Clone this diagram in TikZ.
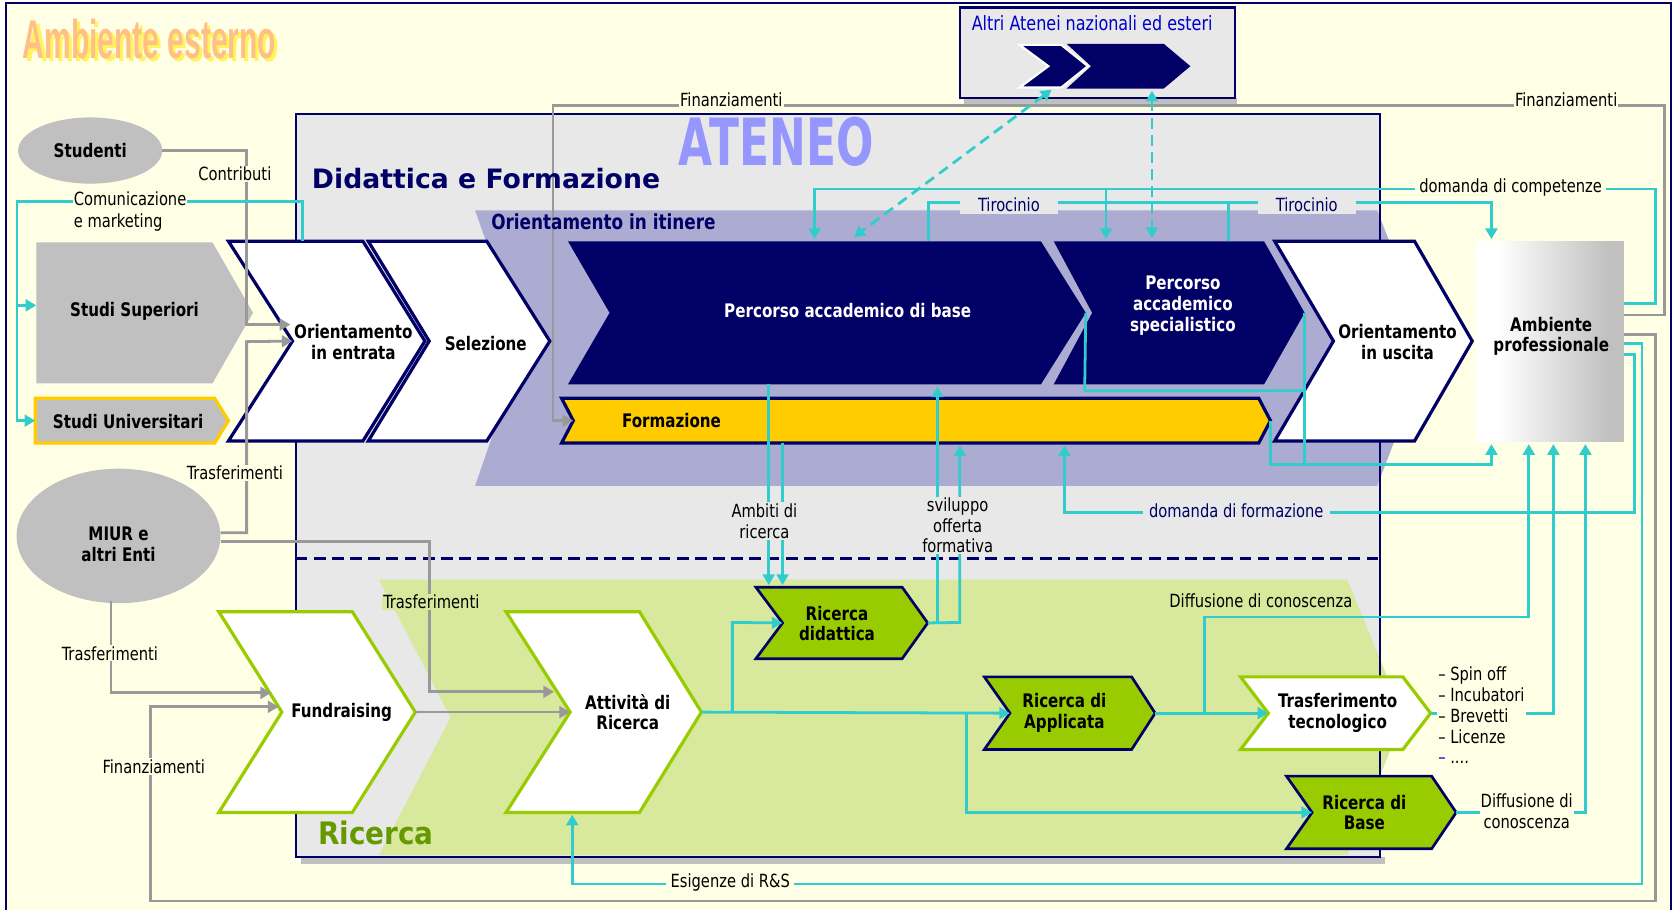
\documentclass[tikz,border=0pt]{standalone}
\usepackage{fontspec}
\setmainfont{DejaVu Sans Condensed}[FakeStretch=0.9]
\newfontfamily\widefont{DejaVu Sans}
\newfontfamily\titlefont{Liberation Sans}[FakeStretch=0.55]
\newfontfamily\ateneofont{DejaVu Sans Condensed}[FakeStretch=0.75]
\newfontfamily\condfont{DejaVu Sans Condensed}
\usetikzlibrary{arrows.meta,calc,shapes.geometric}
\definecolor{navy}{RGB}{0,0,102}
\definecolor{bgY}{RGB}{255,255,229}
\definecolor{atG}{RGB}{232,232,232}
\definecolor{dotR}{RGB}{172,172,210}
\definecolor{grnR}{RGB}{216,233,158}
\definecolor{cyanL}{RGB}{51,204,204}
\definecolor{grayL}{RGB}{153,153,153}
\definecolor{shapeG}{RGB}{192,192,192}
\definecolor{limeG}{RGB}{153,204,0}
\definecolor{yelF}{RGB}{255,204,0}
\definecolor{ateneoC}{RGB}{150,150,255}
\definecolor{titleO}{RGB}{255,192,135}
\definecolor{titleY}{RGB}{255,245,90}
\definecolor{ricG}{RGB}{102,153,0}
\definecolor{blueT}{RGB}{0,0,204}
\pgfdeclarehorizontalshading{apshade}{100bp}{color(0bp)=(white); color(32bp)=(white); color(70bp)=(shapeG); color(100bp)=(shapeG)}
\newcommand\chev[8][]{%
  \pgfmathsetmacro\chM{(#5+#6)/2}%
  \pgfmathsetmacro\chT{#4+#7}%
  \pgfmathsetmacro\chN{#3+#8}%
  \path[#1] (#3,#5) coordinate (#2-tl) -- (#4,#5) coordinate (#2-tr) -- (\chT,\chM) coordinate (#2-tip) -- (#4,#6) coordinate (#2-br) -- (#3,#6) coordinate (#2-bl) -- (\chN,\chM) coordinate (#2-notch) -- cycle;%
}
\begin{document}
\begin{tikzpicture}[x=1pt,y=-1pt,
  cy/.style={draw=cyanL,line width=2.6pt},
  gy/.style={draw=grayL,line width=2.6pt},
  arr/.style={-{Triangle[length=10pt,width=11pt]}},
  arrb/.style={{Triangle[length=10pt,width=11pt]}-{Triangle[length=10pt,width=11pt]}},
  dsh/.style={dash pattern=on 10pt off 6pt},
  lab/.style={font=\fontsize{17}{20}\selectfont,inner sep=1pt,fill=bgY,align=center},
  labg/.style={lab,fill=atG},
  btxt/.style={font=\bfseries\fontsize{17.5}{19.5}\selectfont,align=center,inner sep=0pt},
  whiteC/.style={fill=white,draw=navy,line width=3pt},
  navyC/.style={fill=navy},
  yelC/.style={fill=yelF,draw=navy,line width=3pt},
  greenC/.style={fill=limeG,draw=navy,line width=2.5pt},
  greenW/.style={fill=white,draw=limeG,line width=3pt},
  ell/.style={ellipse,fill=shapeG,inner sep=0pt}
]
\useasboundingbox (0,0) rectangle (1568,852);
\fill[white] (0,0) rectangle (1568,852);
\fill[bgY] (6,3) rectangle (1565,860);
\draw[navy,line width=2pt] (6,860) -- (6,3) -- (1565,3) -- (1565,860);

% title with shadow
\node[font=\titlefont\bfseries\fontsize{51}{53}\selectfont,inner sep=0] (t-amb) at (140,38) {\makebox[0pt][l]{\hspace{3pt}\raisebox{-3pt}{\color{titleY}Ambiente esterno}}\color{titleO}Ambiente esterno};

% Altri Atenei box
\fill[shapeG] (903,92) rectangle (1159,98);
\node[draw=navy,fill=atG,line width=2pt,minimum width=258,minimum height=85,inner sep=0] (altri) at (1028,49.5) {};
\node[font=\fontsize{18.5}{21}\selectfont,text=blueT,inner sep=0] (t-altri) at (1023,22) {Altri Atenei nazionali ed esteri};
\chev[navyC]{a2}{999}{1090}{41}{83}{25}{23}
\chev[navyC,draw=white,line width=2pt]{a1}{955}{994}{42}{82}{25}{27}

% ATENEO box
\fill[shapeG] (282,803) rectangle (1297,809);
\fill[atG] (277,107) rectangle (1293,803);
% regions
\fill[dotR] (445,197) -- (1290,197) -- (1340,325) -- (1290,455) -- (445,455) -- (490,325) -- cycle;
\fill[grnR] (355,543) -- (1262,543) -- (1315,672) -- (1262,801) -- (355,801) -- (422,672) -- cycle;
\draw[navy,line width=2pt] (277,107) rectangle (1293,803);
\draw[navy,line width=3pt,dash pattern=on 11pt off 6pt] (277,523) -- (1293,523);

\node[font=\ateneofont\bfseries\fontsize{61}{63}\selectfont,text=ateneoC,inner sep=0] (t-ateneo) at (727,133) {ATENEO};

\node[ell,minimum width=135,minimum height=62] (stud) at (84.5,141) {};
\node[ell,minimum width=191,minimum height=126] (miur) at (111,502) {};

% left shapes
\chev[fill=shapeG]{ss}{34}{199}{227}{359}{38}{0}
\chev[fill=shapeG,draw=yelF,line width=3pt]{su}{33}{201}{373}{415}{13}{0}
% Didattica chevrons
\chev[whiteC]{oe}{214}{340}{226}{413}{58}{60}
\chev[whiteC]{sel}{345}{456}{226}{413}{59}{57}
\chev[navyC]{pb}{532}{975}{226}{360}{42}{39}
\chev[navyC]{ps}{987}{1184}{226}{360}{38}{36}
\chev[whiteC]{ou}{1194}{1325}{226}{413}{54}{55}
\chev[yelC]{fo}{526}{1179}{373}{415}{11}{11}
\node[shade,shading=apshade,minimum width=138,minimum height=188,inner sep=0] (apbox) at (1452,320) {};
% Ricerca chevrons
\chev[greenW]{fr}{205}{330}{573}{761}{59}{59}
\chev[greenW]{ar}{474}{599}{573}{761}{58}{60}
\chev[greenC]{rd}{708}{845}{550}{617}{24}{25}
\chev[greenC]{ra}{922}{1060}{634}{702}{22}{24}
\chev[greenW]{tt}{1162}{1314}{634}{702}{26}{26}
\chev[greenC]{rb}{1205}{1341}{727}{795}{23}{24}

% ---------- gray connectors
\draw[gy,arr] (stud.east) -- (231,141) -- (231,304) -- (272,304);
\draw[gy,arr] ($(miur.east)+(0,-3)$) -- (231,499) -- (231,320) -- (oe-notch);
\draw[gy,arr] ($(miur.east)+(0,5)$) -- (402,507) -- (402,648) -- (519,648);
\draw[gy,arr] (104,563) -- (104,649) -- (254,649);
\draw[gy,arr] ($(apbox.east)+(0,-7)$) -- (1551,313) -- (1551,844) -- (141,844) -- (141,662) -- (261,662);
\draw[gy,arr] ($(apbox.east)+(0,-25)$) -- (1559,295) -- (1559,99) -- (518,99) -- (518,394) -- (fo-notch);
\draw[gy,arr] (fr-tip) -- (ar-notch);

% ---------- cyan connectors
\draw[cy,arr] (283,226) -- (283,189) -- (16,189) -- (16,394) -- (su-bl |- su-tip);
\draw[cy,arr] (16,286) -- (34,286);
\draw[cy,arr] ($(apbox.east)+(0,-36)$) -- (1551,284) -- (1551,177) -- (763,177) -- (763,224);
\draw[cy,arr] (1036,177) -- (1036,224);
\draw[cy,arr] (870,226) -- (870,190) -- (1397,190) -- (1397,224);
\draw[cy] (1151,226) -- (1151,190);
\draw[cy,arrb,dsh] (985,84) -- (800,222);
\draw[cy,arrb,dsh] (1079,85) -- (1079,223);
\draw[cy,arr] (720,360) -- (720,548);
\draw[cy,arr] (733,415) -- (733,548);
\draw[cy,arr] (rd-tip) -- (899,583) -- (899,417);
\draw[cy,arr] (878,583) -- (878,362);
\draw[cy,arr] ($(apbox.east)+(0,12)$) -- (1531,332) -- (1531,480) -- (997,480) -- (997,417);
\draw[cy] (pb-tip) -- (1016,366) -- (1222,366);
\draw[cy,arr] (ps-tip) -- (1222,435) -- (1397,435) -- (1397,416);
\draw[cy] (fo-tip) -- (1190,435) -- (1222,435);
\draw[cy,arr] (ra-tip) -- (tt-notch);
\draw[cy,arr] (1128,668) -- (1128,578) -- (1432,578) -- (1432,416);
\draw[cy,arr] (tt-tip) -- (1455,668) -- (1455,416);
\draw[cy,arr] (rb-tip) -- (1485,761) -- (1485,416);
\draw[cy,arr] ($(apbox.east)+(0,2)$) -- (1538,322) -- (1538,828) -- (536,828) -- (536,763);
\draw[cy,arr] (ar-tip) -- (ra-notch);
\draw[cy,arr] (686,667) -- (686,583) -- (rd-notch);
\draw[cy,arr] (905,667) -- (905,761) -- (rb-notch);

% ---------- labels
\node[lab] (l-contr) at (220,163) {Contributi};
\node[lab,align=left,anchor=west] (l-com) at (68,198) {Comunicazione\\e marketing};
\node[lab] (l-tr1) at (220,443) {Trasferimenti};
\node[lab] (l-tr2) at (103,612) {Trasferimenti};
\node[lab,fill=grnR] (l-tr3) at (404,564) {Trasferimenti};
\node[lab] (l-fin1) at (685,93) {Finanziamenti};
\node[lab] (l-fin2) at (1467,93) {Finanziamenti};
\node[lab] (l-fin3) at (144,718) {Finanziamenti};
\node[lab,inner xsep=4pt] (l-comp) at (1415,176) {domanda di competenze};
\node[labg,text=navy,minimum width=92,minimum height=16,inner sep=0] (l-tir1) at (945,192) {Tirocinio};
\node[labg,text=navy,minimum width=92,minimum height=16,inner sep=0] (l-tir2) at (1224,192) {Tirocinio};
\node[labg,font=\fontsize{17}{20}\selectfont] (l-amb) at (716,488) {Ambiti di\\ricerca};
\node[labg,font=\fontsize{17}{19}\selectfont] (l-svil) at (897,492) {sviluppo\\offerta\\formativa};
\node[labg,text=navy,inner xsep=6pt] (l-dform) at (1158,478) {domanda di formazione};
\node[lab,fill=none] (l-diff1) at (1181,563) {Diffusione di conoscenza};
\node[lab] (l-diff2) at (1430,760) {Diffusione di\\conoscenza};
\node[lab,inner xsep=4pt] (l-esig) at (684,827) {Esigenze di R\&S};
\node[lab,align=left,anchor=west,font=\fontsize{17}{19.5}\selectfont] (l-list) at (1346,670) {– Spin off\\– Incubatori\\– Brevetti\\– Licenze\\{\color{blueT}–} ....};

% ---------- shape texts
\node[btxt] (t-stud) at (84.5,141) {Studenti};
\node[btxt] (t-miur) at (111,510) {MIUR e\\altri Enti};
\node[btxt] (t-ss) at (126,292) {Studi Superiori};
\node[btxt] (t-su) at (120,395) {Studi Universitari};
\node[btxt] (t-oe) at (331,320) {Orientamento\\in entrata};
\node[btxt] (t-sel) at (455,322) {Selezione};
\node[btxt,text=white] (t-pb) at (794,291) {Percorso accademico di base};
\node[btxt,text=white] (t-ps) at (1108,286) {Percorso\\accademico\\specialistico};
\node[btxt] (t-ou) at (1309,320) {Orientamento\\in uscita};
\node[btxt] (t-ap) at (1453,315) {Ambiente\\professionale};
\node[btxt] (t-fo) at (629,394) {Formazione};
\node[btxt] (t-fr) at (320,667) {Fundraising};
\node[btxt] (t-ar) at (588,667) {Attività di\\Ricerca};
\node[btxt] (t-rd) at (784,584) {Ricerca\\didattica};
\node[btxt] (t-ra) at (997,668) {Ricerca di\\Applicata};
\node[btxt] (t-tt) at (1253,668) {Trasferimento\\tecnologico};
\node[btxt] (t-rb) at (1278,761) {Ricerca di\\Base};

% ---------- section titles
\node[font=\widefont\bfseries\fontsize{25}{28}\selectfont,text=navy,inner sep=0,anchor=west] (t-did) at (292,167) {Didattica e Formazione};
\node[font=\bfseries\fontsize{19.5}{22}\selectfont,text=navy,inner sep=0,anchor=west] (t-itin) at (460,208) {Orientamento in itinere};
\node[font=\condfont\bfseries\fontsize{29}{32}\selectfont,text=ricG,inner sep=0] (t-ric) at (352,780) {Ricerca};
\end{tikzpicture}
\end{document}
